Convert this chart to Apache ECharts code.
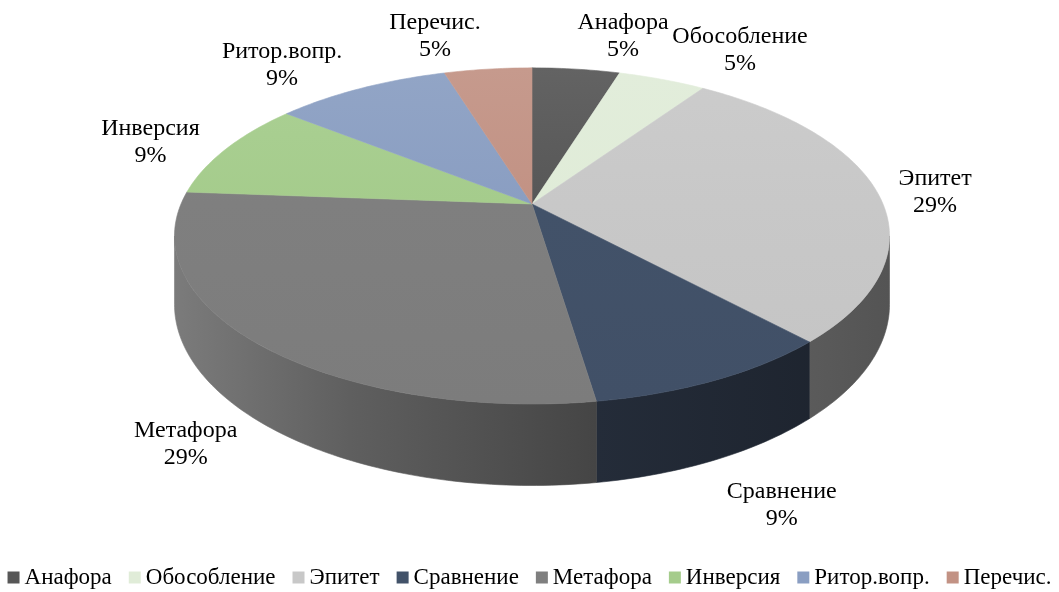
<!DOCTYPE html>
<html style="height: 100%">
<head>
    <meta charset="utf-8" />
    <title>Средства выразительности</title>
    <script type="text/javascript" src="https://cdn.jsdelivr.net/npm/echarts@6/dist/echarts.min.js"></script>
</head>
<body style="height: 100%; margin: 0; background: #fff">
    <div id="container" style="width: 1059px; height: 592px"></div>
</body>
</html>
<script type="text/javascript">
    // slice sizes (angles), and the percent labels as printed
    var names = ['Анафора', 'Обособление', 'Эпитет', 'Сравнение', 'Метафора', 'Инверсия', 'Ритор.вопр.', 'Перечис.'];
    var counts = [1, 1, 6, 2, 6, 2, 2, 1];
    var pctLabels = [5, 5, 29, 9, 29, 9, 9, 5];
    var colors = ['#575757', '#e0ecd8', '#c8c8c8', '#425269', '#7f7f7f', '#a5cc8c', '#8a9ec2', '#c29284'];

    // where each label sits relative to the rim point of its slice
    var labelShift = [[47, -33], [78, -29], [58, 0], [66, 45], [-69, 26], [-76, -6], [-79, -23], [-53, -33]];

    // 3d pie projection
    var CX = 532, CY = 204, RX = 351, RY = 162, PERSP = 0.19, DEPTH = 66;
    var TOP_Y = 68, BOTTOM_Y = 404, LEFT_X = 175, RIGHT_X = 889;

    var total = 0;
    var starts = [];
    counts.forEach(function (v) {
        starts.push(total);
        total += v;
    });

    function proj(deg, drop) {
        var a = deg * Math.PI / 180;
        var k = 1 + PERSP * Math.cos(a);
        return [CX + RX * Math.sin(a) / k, CY - RY * Math.cos(a) / k + (drop ? DEPTH / k : 0)];
    }

    function arc(a0, a1, drop) {
        var pts = [];
        var n = Math.max(2, Math.ceil(a1 - a0));
        for (var i = 0; i <= n; i++) {
            pts.push(proj(a0 + (a1 - a0) * i / n, drop));
        }
        return pts;
    }

    function shade(hex, f) {
        var r = parseInt(hex.substr(1, 2), 16), g = parseInt(hex.substr(3, 2), 16), b = parseInt(hex.substr(5, 2), 16);
        var c = [r, g, b].map(function (x) {
            var y = f >= 1 ? x + (255 - x) * (f - 1) : x * f;
            return Math.max(0, Math.min(255, Math.round(y)));
        });
        return 'rgb(' + c.join(',') + ')';
    }

    function topFill(col) {
        return {
            type: 'linear', x: 0, y: TOP_Y, x2: 0, y2: BOTTOM_Y, global: true,
            colorStops: [
                { offset: 0, color: shade(col, 1.07) },
                { offset: 0.4, color: shade(col, 1.0) },
                { offset: 1, color: shade(col, 0.98) }
            ]
        };
    }

    function wallFill(col) {
        return {
            type: 'linear', x: LEFT_X, y: 0, x2: RIGHT_X, y2: 0, global: true,
            colorStops: [
                { offset: 0, color: shade(col, 0.97) },
                { offset: 0.245, color: shade(col, 0.75) },
                { offset: 0.59, color: shade(col, 0.54) },
                { offset: 1, color: shade(col, 0.42) }
            ]
        };
    }

    var visFrom = Math.acos(-PERSP) * 180 / Math.PI;
    var visTo = 360 - visFrom;

    function renderItem(params, api) {
        var i = params.dataIndex;
        var a0 = starts[i] / total * 360;
        var a1 = a0 + api.value(0) / total * 360;
        var col = colors[i];
        var children = [];

        var w0 = Math.max(a0, visFrom), w1 = Math.min(a1, visTo);
        if (w1 > w0) {
            var wall = arc(w0, w1, false).concat(arc(w0, w1, true).reverse());
            var wf = wallFill(col);
            children.push({
                type: 'polygon',
                shape: { points: wall },
                style: { fill: wf, stroke: wf, lineWidth: 0.6 }
            });
        }

        var tf = topFill(col);
        children.push({
            type: 'polygon',
            shape: { points: [[CX, CY]].concat(arc(a0, a1, false)) },
            style: { fill: tf, stroke: tf, lineWidth: 0.6 }
        });

        var mid = (a0 + a1) / 2;
        var p = proj(mid, Math.cos(mid * Math.PI / 180) < 0);
        children.push({
            type: 'text',
            x: p[0] + labelShift[i][0],
            y: p[1] + labelShift[i][1],
            style: {
                text: names[i] + '\n' + pctLabels[i] + '%',
                fontFamily: 'Liberation Serif',
                fontSize: 24,
                lineHeight: 27,
                fill: '#000',
                align: 'center',
                verticalAlign: 'middle'
            }
        });

        return { type: 'group', children: children };
    }

    var dom = document.getElementById('container');
    var myChart = echarts.init(dom);
    var option = {
        animation: false,
        legend: {
            data: names,
            left: 'center',
            width: 1059,
            top: 566,
            padding: 0,
            icon: 'rect',
            itemWidth: 12,
            itemHeight: 12,
            itemGap: 17,
            selectedMode: false,
            textStyle: { fontFamily: 'Liberation Serif', fontSize: 23, color: '#000' }
        },
        series: [
            {
                // only feeds the legend
                type: 'pie',
                center: [-20, -20],
                radius: 1,
                silent: true,
                label: { show: false },
                labelLine: { show: false },
                data: names.map(function (n, i) {
                    return { name: n, value: counts[i], itemStyle: { color: colors[i] } };
                })
            },
            {
                type: 'custom',
                coordinateSystem: 'none',
                silent: true,
                renderItem: renderItem,
                data: names.map(function (n, i) {
                    return { name: n, value: [counts[i]] };
                })
            }
        ]
    };
    myChart.setOption(option);
</script>
